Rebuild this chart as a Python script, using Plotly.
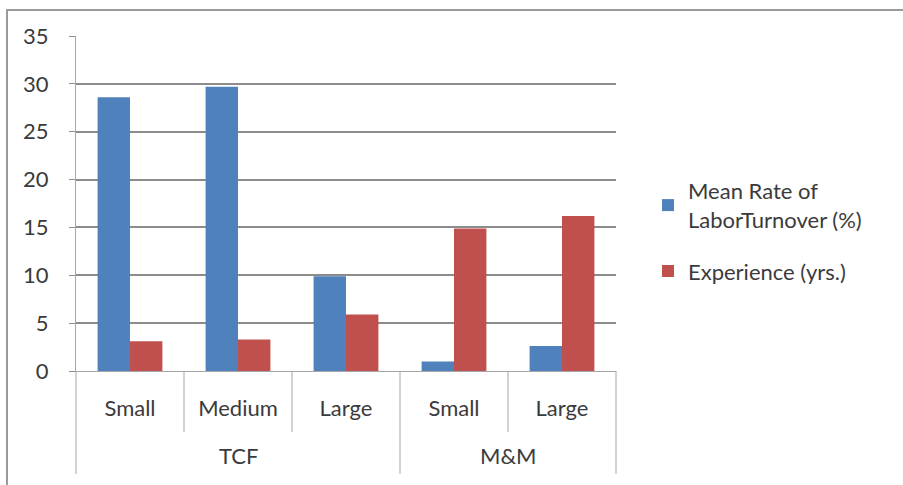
import plotly.graph_objects as go

# Chart data
groups = ["TCF", "TCF", "TCF", "M&M", "M&M"]
sizes = ["Small", "Medium", "Large", "Small", "Large"]
turnover = [28.6, 29.7, 9.9, 1.0, 2.6]
experience = [3.1, 3.3, 5.9, 14.9, 16.2]
series_names = ["Mean Rate of<br>LaborTurnover (%)", "Experience (yrs.)"]
y_ticks = [0, 5, 10, 15, 20, 25, 30, 35]

BLUE = "#4F81BD"
RED = "#C0504D"
GRID = "#8c8c8c"
AXIS = "#a6a6a6"
TEXT = "#3b3b3b"
FONT = "Lato, Open Sans, sans-serif"

# one unique key per bar position, labelled with the size class
keys = [f"{g}|{s}" for g, s in zip(groups, sizes)]

fig = go.Figure()
fig.add_trace(go.Bar(x=keys, y=turnover, name=series_names[0], legendgroup="a",
                     marker=dict(color=BLUE, line=dict(width=0))))
fig.add_trace(go.Bar(x=keys, y=experience, name=series_names[1], legendgroup="b",
                     marker=dict(color=RED, line=dict(width=0))))

# plot area in pixels: left 76, right 616, top 36, bottom 371
L, R, T, B = 76, 616, 36, 371
W, H = R - L, B - T

def px_x(p):
    return (p - L) / W

def px_y(p):
    return (B - p) / H

n = len(keys)
shapes = []
# outer chart border
shapes.append(dict(type="rect", xref="paper", yref="paper",
                   x0=px_x(7), x1=px_x(940), y0=px_y(10), y1=px_y(520),
                   line=dict(color="#9a9a9a", width=2), layer="below"))
# separators under the axis: short ones between sizes, long ones between groups
for i in range(n + 1):
    edge = i == 0 or i == n or groups[i] != groups[i - 1]
    shapes.append(dict(type="line", xref="paper", yref="paper",
                       x0=i / n, x1=i / n, y0=0,
                       y1=px_y(474) if edge else px_y(432),
                       line=dict(color=AXIS, width=1)))

# group labels centred under their size classes
annotations = []
for g in dict.fromkeys(groups):
    idx = [i for i, gg in enumerate(groups) if gg == g]
    centre = (idx[0] + idx[-1] + 1) / 2 / n
    annotations.append(dict(text=g, xref="paper", yref="paper", x=centre,
                            y=px_y(455), xanchor="center", yanchor="middle",
                            showarrow=False,
                            font=dict(family=FONT, size=22, color=TEXT)))

fig.update_layout(
    width=903, height=485,
    margin=dict(l=L, r=903 - R, t=T, b=485 - B),
    paper_bgcolor="white", plot_bgcolor="white",
    barmode="group", bargap=0.4, bargroupgap=0,
    font=dict(family=FONT, size=22, color=TEXT),
    shapes=shapes, annotations=annotations,
    legend=dict(x=px_x(648), y=px_y(170), xanchor="left", yanchor="top",
                font=dict(family=FONT, size=22, color=TEXT),
                itemwidth=30, tracegroupgap=20, bgcolor="rgba(0,0,0,0)"),
    xaxis=dict(type="category", tickvals=keys, ticktext=sizes,
               showline=True, linecolor=AXIS, linewidth=1,
               ticks="outside", ticklen=18, tickcolor="rgba(0,0,0,0)",
               showgrid=False,
               tickfont=dict(family=FONT, size=22, color=TEXT)),
    yaxis=dict(range=[0, 35], tickvals=y_ticks, showgrid=True,
               gridcolor=GRID, gridwidth=1.5, zeroline=False,
               showline=True, linecolor=AXIS, linewidth=1,
               ticks="outside", ticklen=6, tickcolor=GRID,
               ticklabelstandoff=16,
               tickfont=dict(family=FONT, size=22, color=TEXT)),
)

fig.write_html("out.html")
